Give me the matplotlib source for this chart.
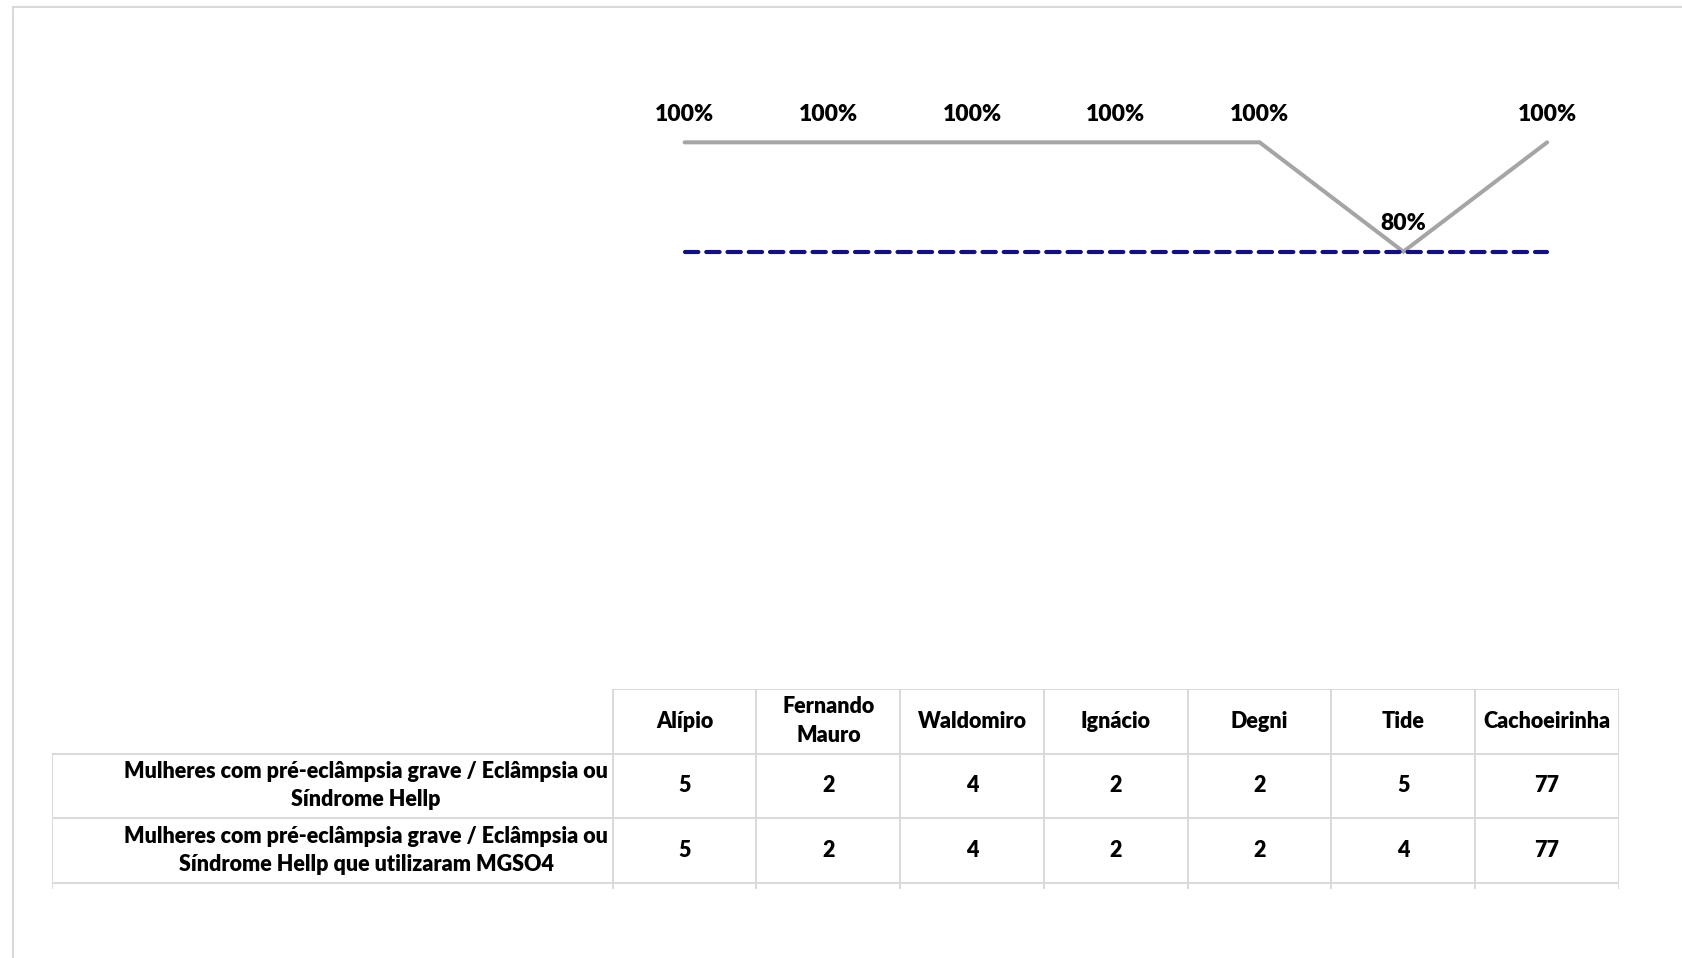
import matplotlib
matplotlib.use("Agg")
import matplotlib.pyplot as plt
from matplotlib.lines import Line2D

plt.rcParams['font.family'] = ['Lato', 'DejaVu Sans']

# data
units = ["Alípio", "Fernando\nMauro", "Waldomiro", "Ignácio", "Degni", "Tide", "Cachoeirinha"]
row_labels = ["Mulheres com pré-eclâmpsia grave / Eclâmpsia ou\nSíndrome Hellp",
              "Mulheres com pré-eclâmpsia grave / Eclâmpsia ou\nSíndrome Hellp que utilizaram MGSO4"]
casos = [5, 2, 4, 2, 2, 5, 77]
com_mgso4 = [5, 2, 4, 2, 2, 4, 77]
meta = 0.8

percent = [b / a for a, b in zip(casos, com_mgso4)]

W, H = 1682, 958
fig = plt.figure(figsize=(W / 100, H / 100), dpi=100)

grid_color = '#d9d9d9'
weight = 'heavy'
label_cols = 3.904  # width of the row-label column in category units
x_left = -0.5 - label_cols
x_right = len(units) - 0.5

ax_left = 51.5 / W
ax_width = (1619 - 51.5) / W

# line chart
ax = fig.add_axes([ax_left, 1 - 689 / H, ax_width, (689 - 33) / H])
xs = list(range(len(units)))
ax.plot(xs, percent, color='#a5a5a5', lw=2.9, solid_capstyle='round', solid_joinstyle='miter')
ax.plot(xs, [meta] * len(xs), color='#14107d', lw=3.0, dashes=(3.2, 1.9), dash_capstyle='round')
for x, p in zip(xs, percent):
    ax.annotate(f"{p:.0%}", (x, p), xytext=(0, 12.5), textcoords='offset points',
                ha='center', va='bottom', fontsize=16.5, fontweight=weight, color='black')
ax.set_xlim(x_left, x_right)
ax.set_ylim(0, 1.2)
ax.axis('off')

# data table
tb = fig.add_axes([ax_left, 1 - 889 / H, ax_width, 200 / H])
tb.set_xlim(x_left, x_right)
tb.set_ylim(3.1, 0)
tb.axis('off')

lw = 1.4
fs = 15.5
# horizontal lines
tb.plot([-0.5, x_right], [0, 0], color=grid_color, lw=lw)
for y in [1, 2, 3]:
    tb.plot([x_left, x_right], [y, y], color=grid_color, lw=lw)
# vertical lines
for i in range(len(units) + 1):
    tb.plot([i - 0.5, i - 0.5], [0, 3.1], color=grid_color, lw=lw)
tb.plot([x_left, x_left], [1, 3.1], color=grid_color, lw=lw)

for i, name in enumerate(units):
    tb.text(i, 0.5, name, ha='center', va='center', fontsize=fs, fontweight=weight,
            linespacing=1.45)
for r, (lab, vals) in enumerate(zip(row_labels, [casos, com_mgso4])):
    tb.text(-0.5 - 1.716, r + 1.5, lab, ha='center', va='center',
            fontsize=fs, fontweight=weight, linespacing=1.4)
    for i, v in enumerate(vals):
        tb.text(i, r + 1.5, str(v), ha='center', va='center', fontsize=fs, fontweight=weight)

# outer frame of the chart area
fig.add_artist(Line2D([13 / W, 1], [1 - 6.7 / H, 1 - 6.7 / H], color=grid_color, lw=1.5))
fig.add_artist(Line2D([13 / W, 13 / W], [0, 1 - 6.7 / H], color=grid_color, lw=1.5))

fig.savefig('out.png', dpi=100, facecolor='white')
